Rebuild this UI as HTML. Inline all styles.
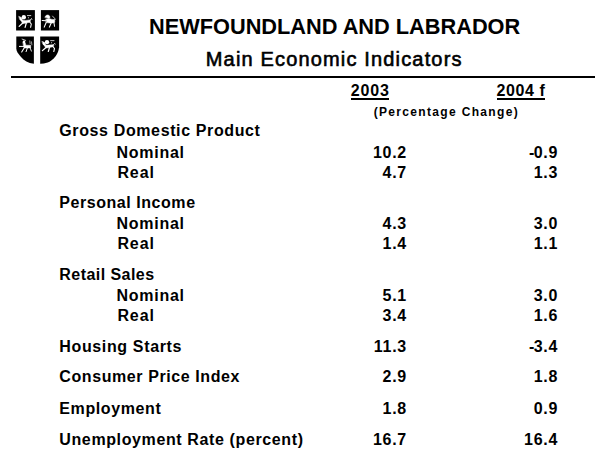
<!DOCTYPE html>
<html><head><meta charset="utf-8"><style>
html,body{margin:0;padding:0;background:#fff;}
body{width:600px;height:450px;position:relative;overflow:hidden;font-family:"Liberation Sans",sans-serif;color:#000;}
.t{position:absolute;font-weight:bold;font-size:16px;line-height:16px;white-space:nowrap;}
.r{text-align:right;}
.title{position:absolute;left:149.2px;top:16px;font-weight:bold;font-size:22.2px;line-height:22px;white-space:nowrap;transform:scaleX(0.98);transform-origin:0 0;}
.sub{position:absolute;left:205.8px;top:49px;font-size:20px;line-height:20px;letter-spacing:1.16px;white-space:nowrap;-webkit-text-stroke:0.6px #000;}
.hr{position:absolute;left:11px;top:76px;width:584px;height:2px;background:#000;}
.ul{position:absolute;height:1.6px;background:#000;}
.pc{position:absolute;left:373.7px;top:105.7px;font-weight:bold;font-size:12px;line-height:12px;letter-spacing:1.33px;white-space:nowrap;}
</style></head><body>
<svg style="position:absolute;left:0;top:0" width="70" height="70" viewBox="0 0 70 70">
<rect x="16.1" y="10.1" width="18.8" height="20.4" fill="#000"/>
<rect x="40.9" y="10.1" width="18.2" height="20.4" fill="#000"/>
<path d="M16.3 36.5 H33.9 V63.8 C28 63 24 60.5 21 57 C18 53.5 16.3 51 16.3 48.5 Z" fill="#000"/>
<path d="M40.2 36.5 H59.1 V47.3 C58.6 51 57.6 53.5 55.8 56 C53 59.5 50 61.8 47.7 62.5 C45 63.3 42.5 63.7 40.2 63.8 Z" fill="#000"/>
<defs>
<g id="lion">
<circle cx="23.8" cy="17.2" r="2.2" stroke="none"/>
<path d="M19 16.4 L21.2 17.4 L22.9 20.7 L21.4 21.3 L19.8 19.5 Z" stroke-width="0.5"/>
<path d="M22 20.6 L25.3 20.4 L30 19.9 L30.6 21 L29.6 22.2 L27.5 22.8 L25 23.2 L23 23.5 L21.8 22.2 Z" stroke-width="0.5"/>
<path d="M22.8 23 L19.2 26.4" fill="none" stroke-width="1.3"/>
<path d="M26.3 23 L25.1 27.3" fill="none" stroke-width="1.2"/>
<path d="M29.6 21.8 L31.3 24 L30.6 27.3" fill="none" stroke-width="1.1"/>
<path d="M30 20.2 L31.5 18.5 L31.9 19.4" fill="none" stroke-width="0.8"/>
<path d="M27.4 15.6 H30.8" fill="none" stroke-width="0.8"/>
<circle cx="28.4" cy="17.8" r="0.55" stroke="none"/>
</g>
</defs>
<g fill="#fff" stroke="#fff" stroke-linecap="round" stroke-linejoin="round">
<use href="#lion"/>
<use href="#lion" transform="translate(23.2 25.2) scale(1 0.93) translate(0 1)"/>
<!-- TR unicorn -->
<path d="M45 17.2 C45.4 15.6 46.6 14.8 48 15 C49.6 15.3 50.2 16.6 49.7 18 L48.6 18.3 Z" stroke-width="0.5"/>
<path d="M46 19.2 L49 18.6 L52 19.4 L54.6 19.6 L54.8 22.2 L53.5 23 L50 23 L46.5 22.6 Z" stroke-width="0.5"/>
<path d="M42.2 20.5 L46 20.8" fill="none" stroke-width="1.1"/>
<path d="M46.2 22.5 L44.2 27.1" fill="none" stroke-width="1.1"/>
<path d="M51.2 23 L49.4 27.1" fill="none" stroke-width="1.1"/>
<path d="M54 22.8 L54.5 26.3" fill="none" stroke-width="1"/>
<path d="M52.6 16.1 L54 17.9 L55.4 18.9 L54.8 19.8" fill="none" stroke-width="0.7"/>
<!-- BL unicorn -->
<path d="M22.1 39.1 L25.7 40.4" fill="none" stroke-width="0.8"/>
<circle cx="24" cy="41.9" r="1.3" stroke="none"/>
<path d="M23.2 42.6 L25.2 42.8 L25.8 45.2 L30.6 45.2 L30.7 47.9 L24.2 48 L23.4 45.5 Z" stroke-width="0.5"/>
<path d="M19.4 46.4 L23.9 46.4" fill="none" stroke-width="1"/>
<path d="M24.3 47.8 L21.7 52" fill="none" stroke-width="1.1"/>
<path d="M27.4 47.8 L26.1 51.6" fill="none" stroke-width="1"/>
<path d="M30.1 47.8 L31.4 51.1" fill="none" stroke-width="0.9"/>
<path d="M29.8 40.9 L30.1 43.6 M31.5 41.8 L31.9 44.9" fill="none" stroke-width="0.6"/>
</g>
</svg>
<div class="title">NEWFOUNDLAND AND LABRADOR</div>
<div class="sub">Main Economic Indicators</div>
<div class="hr"></div>
<div class="t" style="left:350.7px;top:82.7px;letter-spacing:0.85px">2003</div>
<div class="ul" style="left:351.2px;top:98px;width:37.5px"></div>
<div class="t" style="left:496.5px;top:82.7px;letter-spacing:0.6px">2004 f</div>
<div class="ul" style="left:496.8px;top:98px;width:48px"></div>
<div class="pc">(Percentage Change)</div>
<div class="t" style="left:59.3px;top:123.3px;letter-spacing:0.62px">Gross Domestic Product</div>
<div class="t" style="left:116.6px;top:144.5px;letter-spacing:0.72px">Nominal</div>
<div class="t" style="left:117.39999999999999px;top:164.5px;letter-spacing:0.9px">Real</div>
<div class="t" style="left:59.3px;top:195.0px;letter-spacing:0.55px">Personal Income</div>
<div class="t" style="left:116.6px;top:215.7px;letter-spacing:0.72px">Nominal</div>
<div class="t" style="left:117.39999999999999px;top:236.0px;letter-spacing:0.9px">Real</div>
<div class="t" style="left:59.3px;top:266.7px;letter-spacing:0.45px">Retail Sales</div>
<div class="t" style="left:116.6px;top:287.5px;letter-spacing:0.72px">Nominal</div>
<div class="t" style="left:117.39999999999999px;top:307.8px;letter-spacing:0.9px">Real</div>
<div class="t" style="left:59.3px;top:338.5px;letter-spacing:0.64px">Housing Starts</div>
<div class="t" style="left:59.3px;top:369.4px;letter-spacing:0.59px">Consumer Price Index</div>
<div class="t" style="left:59.3px;top:401.0px;letter-spacing:0.61px">Employment</div>
<div class="t" style="left:59.3px;top:431.9px;letter-spacing:0.62px">Unemployment Rate (percent)</div>
<div class="t r" style="right:193.1px;top:144.5px;letter-spacing:0.7px">10.2</div>
<div class="t r" style="right:42.0px;top:144.5px;letter-spacing:0.7px"><span style="letter-spacing:-0.6px">-</span>0.9</div>
<div class="t r" style="right:193.1px;top:164.5px;letter-spacing:0.7px">4.7</div>
<div class="t r" style="right:42.0px;top:164.5px;letter-spacing:0.7px">1.3</div>
<div class="t r" style="right:193.1px;top:215.7px;letter-spacing:0.7px">4.3</div>
<div class="t r" style="right:42.0px;top:215.7px;letter-spacing:0.7px">3.0</div>
<div class="t r" style="right:193.1px;top:236.0px;letter-spacing:0.7px">1.4</div>
<div class="t r" style="right:42.0px;top:236.0px;letter-spacing:0.7px">1.1</div>
<div class="t r" style="right:193.1px;top:287.5px;letter-spacing:0.7px">5.1</div>
<div class="t r" style="right:42.0px;top:287.5px;letter-spacing:0.7px">3.0</div>
<div class="t r" style="right:193.1px;top:307.8px;letter-spacing:0.7px">3.4</div>
<div class="t r" style="right:42.0px;top:307.8px;letter-spacing:0.7px">1.6</div>
<div class="t r" style="right:193.1px;top:338.5px;letter-spacing:0.7px">11.3</div>
<div class="t r" style="right:42.0px;top:338.5px;letter-spacing:0.7px"><span style="letter-spacing:-0.6px">-</span>3.4</div>
<div class="t r" style="right:193.1px;top:369.4px;letter-spacing:0.7px">2.9</div>
<div class="t r" style="right:42.0px;top:369.4px;letter-spacing:0.7px">1.8</div>
<div class="t r" style="right:193.1px;top:401.0px;letter-spacing:0.7px">1.8</div>
<div class="t r" style="right:42.0px;top:401.0px;letter-spacing:0.7px">0.9</div>
<div class="t r" style="right:193.1px;top:431.9px;letter-spacing:0.7px">16.7</div>
<div class="t r" style="right:42.0px;top:431.9px;letter-spacing:0.7px">16.4</div>
</body></html>
